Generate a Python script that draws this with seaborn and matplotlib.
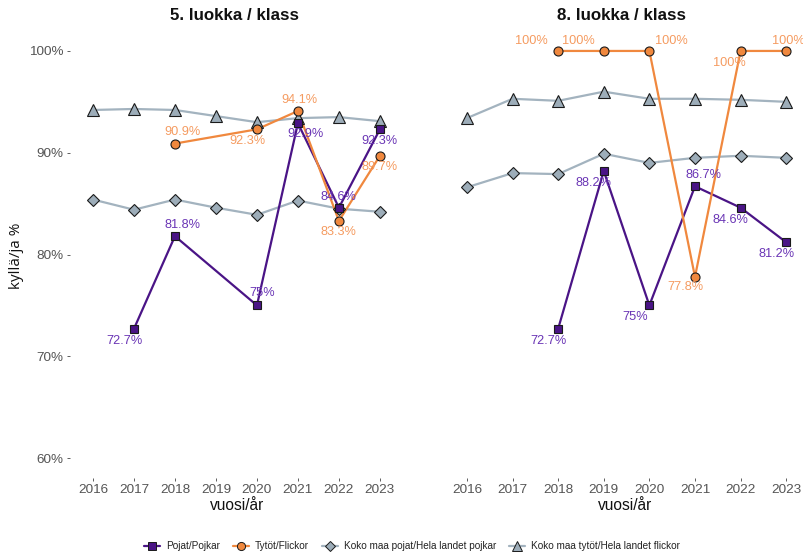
import numpy as np
import pandas as pd
import matplotlib
matplotlib.use("Agg")
import matplotlib.pyplot as plt
from matplotlib.lines import Line2D
import seaborn as sns

sns.set_theme(style="white")
plt.rcParams["font.family"] = ["Liberation Sans", "DejaVu Sans"]

years = [2016, 2017, 2018, 2019, 2020, 2021, 2022, 2023]
nan = np.nan

# 5. luokka / klass
g5_boys = [nan, 72.7, 81.8, nan, 75.0, 92.9, 84.6, 92.3]
g5_girls = [nan, nan, 90.9, nan, 92.3, 94.1, 83.3, 89.7]
g5_all_boys = [85.4, 84.4, 85.4, 84.6, 83.9, 85.3, 84.5, 84.2]
g5_all_girls = [94.2, 94.3, 94.2, 93.6, 93.0, 93.4, 93.5, 93.1]

# 8. luokka / klass
g8_boys = [nan, nan, 72.7, 88.2, 75.0, 86.7, 84.6, 81.2]
g8_girls = [nan, nan, 100.0, 100.0, 100.0, 77.8, 100.0, 100.0]
g8_all_boys = [86.6, 88.0, 87.9, 89.9, 89.0, 89.5, 89.7, 89.5]
g8_all_girls = [93.4, 95.3, 95.1, 96.0, 95.3, 95.3, 95.2, 95.0]

series_names = ["Pojat/Pojkar", "Tytöt/Flickor",
                "Koko maa pojat/Hela landet pojkar",
                "Koko maa tytöt/Hela landet flickor"]
titles = ["5. luokka / klass", "8. luokka / klass"]

# label offsets in pixels (dx right, dy down) for the labelled series
g5_boys_off = [None, (-9, 12), (8, -11), None, (5, -12), (8, 11), (0, -11), (0, 12)]
g5_girls_off = [None, None, (8, -12), None, (-9, 12), (2, -11), (0, 11), (0, 11)]
g8_boys_off = [None, None, (-10, 12), (-10, 12), (-14, 12), (9, -11), (-10, 12), (-10, 12)]
g8_girls_off = [None, None, (-27, -10), (-25, -10), (22, -10), (-10, 10), (-11, 12), (2, -10)]

PURPLE = "#4a1486"
PURPLE_TXT = "#6a35b5"
ORANGE = "#f0883e"
ORANGE_TXT = "#f59b60"
GREY_LINE = "#a3b3bf"
GREY_FILL = "#9dadb9"

styles = {
    series_names[0]: dict(color=PURPLE, marker="s", ms=5.8, mfc=PURPLE),
    series_names[1]: dict(color=ORANGE, marker="o", ms=6.5, mfc=ORANGE),
    series_names[2]: dict(color=GREY_LINE, marker="D", ms=5.8, mfc=GREY_FILL),
    series_names[3]: dict(color=GREY_LINE, marker="^", ms=8.0, mfc=GREY_FILL),
}


def fmt(v):
    s = f"{v:.1f}"
    if s.endswith(".0"):
        s = s[:-2]
    return s + "%"


def to_frame(vals):
    df = pd.DataFrame({"year": years, "value": vals})
    return df.dropna()


W, H = 804, 553
fig = plt.figure(figsize=(W / 100, H / 100), dpi=100)

ax_bottom = (H - 478.4) / H
ax_height = 447.8 / H
axes = [
    fig.add_axes([70 / W, ax_bottom, 330 / W, ax_height]),
    fig.add_axes([440 / W, ax_bottom, 364 / W, ax_height]),
]
xlims = [(2015.44, 2023.49), (2015.41, 2023.39)]

panels = [
    (g5_boys, g5_girls, g5_all_boys, g5_all_girls, g5_boys_off, g5_girls_off),
    (g8_boys, g8_girls, g8_all_boys, g8_all_girls, g8_boys_off, g8_girls_off),
]

for i, (ax, panel) in enumerate(zip(axes, panels)):
    boys, girls, all_boys, all_girls, boys_off, girls_off = panel
    data = {series_names[0]: boys, series_names[1]: girls,
            series_names[2]: all_boys, series_names[3]: all_girls}
    order = [series_names[2], series_names[3], series_names[0], series_names[1]]
    # lines first
    for name in order:
        df = to_frame(data[name])
        st = styles[name]
        sns.lineplot(data=df, x="year", y="value", ax=ax, color=st["color"],
                     linewidth=1.6, zorder=2, legend=False)
    # then points
    for name in order:
        df = to_frame(data[name])
        st = styles[name]
        ax.plot(df["year"], df["value"], linestyle="none", marker=st["marker"],
                markersize=st["ms"], markerfacecolor=st["mfc"],
                markeredgecolor="#1a1a1a", markeredgewidth=0.8, zorder=3)
    # value labels
    for vals, offs, col in [(boys, boys_off, PURPLE_TXT), (girls, girls_off, ORANGE_TXT)]:
        for yr, v, off in zip(years, vals, offs):
            if np.isnan(v) or off is None:
                continue
            ax.annotate(fmt(v), (yr, v), xytext=(off[0] * 0.72, -off[1] * 0.72),
                        textcoords="offset points", ha="center", va="center",
                        fontsize=9.2, color=col, zorder=4)

    ax.set_xlim(*xlims[i])
    ax.set_ylim(58, 102)
    ax.set_xticks(years)
    ax.set_xticklabels([str(y) for y in years])
    ax.set_yticks([60, 70, 80, 90, 100])
    ax.set_xlabel("")
    ax.set_ylabel("")
    for sp in ax.spines.values():
        sp.set_visible(False)
    ax.tick_params(axis="x", length=2.5, width=0.6, color="#444444", pad=1.5,
                   labelsize=9.7, labelcolor="#555555", bottom=True)
    if i == 0:
        ax.set_yticklabels([f"{t}%" for t in [60, 70, 80, 90, 100]])
        ax.tick_params(axis="y", length=2.5, width=0.6, color="#444444", pad=2,
                       labelsize=9.7, labelcolor="#555555", left=True)
    else:
        ax.tick_params(axis="y", left=False, labelleft=False)

    cx = (ax.get_position().x0 + ax.get_position().x1) / 2
    fig.text(cx, 1 - 15 / H, titles[i], ha="center", va="center",
             fontsize=12.2, fontweight="bold", color="#111111")
    fig.text(cx + (0.002 if i == 0 else 0.004), 1 - 505 / H, "vuosi/år",
             ha="center", va="center", fontsize=11.2, color="#111111")

fig.text(17 / W, 1 - 256 / H, "kyllä/ja %", rotation=90, ha="center", va="center",
         fontsize=11, color="#111111", family=["Open Sans", "DejaVu Sans"])

handles = []
for name in series_names:
    st = styles[name]
    handles.append(Line2D([0], [0], color=st["color"], linewidth=1.6,
                          marker=st["marker"], markersize=st["ms"] * 0.9,
                          markerfacecolor=st["mfc"], markeredgecolor="#1a1a1a",
                          markeredgewidth=0.7))
fig.legend(handles, series_names, loc="center", bbox_to_anchor=(0.512, 0.012),
           ncol=4, frameon=False, fontsize=7.2, handlelength=1.6,
           handletextpad=0.6, columnspacing=1.3, labelcolor="#222222")

fig.savefig("out.png", dpi=100, facecolor="white")
